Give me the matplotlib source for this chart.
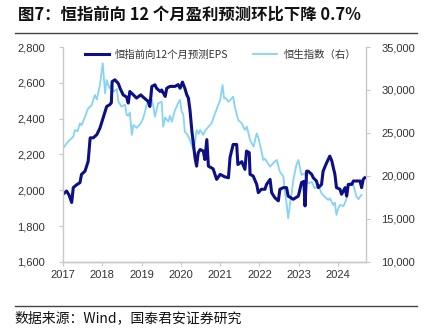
import numpy as np
import matplotlib
matplotlib.use("Agg")
import matplotlib.pyplot as plt
from matplotlib.ticker import FuncFormatter

plt.rcParams['font.family'] = ['Liberation Sans', 'Noto Sans CJK SC', 'DejaVu Sans']

# 恒指前向12个月预测EPS (left axis)
eps_t = [2017.00, 2017.09, 2017.15, 2017.22, 2017.26, 2017.34, 2017.43, 2017.47, 2017.56, 2017.64,
         2017.69, 2017.77, 2017.86, 2017.94, 2018.02, 2018.11, 2018.19, 2018.23, 2018.25, 2018.32,
         2018.41, 2018.45, 2018.53, 2018.62, 2018.66, 2018.70, 2018.79, 2018.87, 2018.98, 2019.04,
         2019.17, 2019.21, 2019.26, 2019.34, 2019.38, 2019.47, 2019.51, 2019.60, 2019.64, 2019.72,
         2019.85, 2019.93, 2019.98, 2020.04, 2020.10, 2020.15, 2020.19, 2020.23, 2020.28, 2020.32,
         2020.36, 2020.40, 2020.44, 2020.49, 2020.57, 2020.61, 2020.66, 2020.70, 2020.82, 2020.91,
         2021.00, 2021.12, 2021.21, 2021.25, 2021.33, 2021.42, 2021.45, 2021.55, 2021.63, 2021.67,
         2021.74, 2021.76, 2021.84, 2021.93, 2021.97, 2022.05, 2022.14, 2022.18, 2022.27, 2022.31,
         2022.39, 2022.48, 2022.52, 2022.61, 2022.69, 2022.73, 2022.86, 2022.99, 2023.07, 2023.13,
         2023.16, 2023.20, 2023.24, 2023.33, 2023.37, 2023.45, 2023.50, 2023.58, 2023.62, 2023.71,
         2023.79, 2023.84, 2023.88, 2023.92, 2023.96, 2024.05, 2024.09, 2024.18, 2024.22, 2024.26,
         2024.35, 2024.39, 2024.56, 2024.60, 2024.64, 2024.68]
eps_v = [1978, 1996, 1975, 1932, 2015, 2030, 2043, 2089, 2107, 2163,
         2293, 2293, 2311, 2348, 2404, 2468, 2478, 2490, 2607, 2617,
         2595, 2570, 2533, 2520, 2487, 2552, 2533, 2515, 2533, 2520,
         2496, 2468, 2580, 2589, 2570, 2552, 2560, 2524, 2570, 2580,
         2580, 2590, 2570, 2604, 2570, 2533, 2515, 2450, 2330, 2256,
         2181, 2135, 2209, 2228, 2219, 2172, 2283, 2135, 2120, 2061,
         2089, 2075, 2070, 2183, 2256, 2256, 2144, 2160, 2117, 2219,
         2210, 2089, 2080, 2033, 1987, 2006, 2006, 2033, 2061, 1987,
         1959, 1941, 2006, 2015, 2015, 1968, 1950, 1968, 2043, 2050,
         1913, 2107, 2107, 2089, 2070, 2052, 2015, 2033, 2107, 2154,
         2191, 2165, 2126, 2090, 2015, 2006, 1978, 2015, 1968, 2033,
         2033, 2052, 2052, 2015, 2061, 2070]

# 恒生指数 (right axis)
hsi_t = [2017.00, 2017.09, 2017.17, 2017.26, 2017.30, 2017.37, 2017.43, 2017.47, 2017.56, 2017.64,
         2017.73, 2017.81, 2017.86, 2017.90, 2017.94, 2018.01, 2018.07, 2018.11, 2018.18, 2018.23,
         2018.28, 2018.37, 2018.41, 2018.49, 2018.58, 2018.62, 2018.66, 2018.70, 2018.75, 2018.79,
         2018.87, 2018.96, 2019.04, 2019.13, 2019.17, 2019.26, 2019.30, 2019.34, 2019.42, 2019.51,
         2019.55, 2019.60, 2019.68, 2019.72, 2019.77, 2019.85, 2019.93, 2019.98, 2020.02, 2020.06,
         2020.10, 2020.15, 2020.19, 2020.23, 2020.32, 2020.36, 2020.40, 2020.45, 2020.49, 2020.57,
         2020.62, 2020.78, 2020.87, 2020.95, 2021.00, 2021.06, 2021.10, 2021.15, 2021.21, 2021.27,
         2021.33, 2021.38, 2021.46, 2021.55, 2021.63, 2021.68, 2021.76, 2021.85, 2021.93, 2021.98,
         2022.10, 2022.14, 2022.27, 2022.35, 2022.44, 2022.52, 2022.61, 2022.65, 2022.69, 2022.73,
         2022.78, 2022.82, 2022.86, 2022.94, 2022.99, 2023.07, 2023.15, 2023.24, 2023.33, 2023.41,
         2023.50, 2023.58, 2023.66, 2023.75, 2023.79, 2023.88, 2023.92, 2023.96, 2024.00, 2024.05,
         2024.14, 2024.22, 2024.26, 2024.31, 2024.39, 2024.47, 2024.52, 2024.56, 2024.60]
hsi_v = [23220, 23800, 24180, 24570, 25350, 25200, 26120, 25900, 26900, 27870,
         28250, 29420, 28900, 29800, 30580, 33100, 29620, 31160, 30200, 30600,
         29800, 30100, 28640, 28060, 28300, 27090, 27000, 27400, 24770, 25930,
         25600, 26000, 26710, 28250, 28840, 28900, 28060, 26900, 28450, 28640,
         25730, 26800, 26310, 27000, 26300, 27670, 28450, 28840, 27470, 27200,
         25150, 24900, 24570, 24200, 23020, 23990, 25350, 24900, 25350, 24770,
         25300, 26120, 27290, 28250, 28840, 30580, 29030, 29030, 28640, 28900,
         29220, 27870, 26510, 26120, 25350, 25730, 24180, 23410, 24960, 24300,
         21860, 22000, 21080, 21500, 21860, 20500, 19920, 17990, 16820, 15080,
         16820, 18000, 19530, 21280, 21860, 20120, 20300, 19150, 19300, 18570,
         18900, 17990, 17590, 17210, 17400, 16630, 16900, 15470, 16200, 16630,
         16500, 17400, 18950, 19200, 18950, 17590, 17300, 17590, 17790]

years = [2017, 2018, 2019, 2020, 2021, 2022, 2023, 2024]
title = '图7：恒指前向 12 个月盈利预测环比下降 0.7%'
source = '数据来源：Wind，国泰君安证券研究'

dark = '#0c0f86'
light = '#85d3f5'
grey = '#c8c8c8'

fig = plt.figure(figsize=(4.26, 3.31), dpi=100)
ax = fig.add_axes([0.148, 0.2085, 0.711, 0.6495])
ax2 = ax.twinx()
ax.set_zorder(ax2.get_zorder() + 1)
ax.patch.set_visible(False)

l2, = ax2.plot(hsi_t, hsi_v, color=light, lw=1.3, label='恒生指数（右）')
l1, = ax.plot(eps_t, eps_v, color=dark, lw=2.2, label='恒指前向12个月预测EPS')

ax.set_xlim(2017, 2024.71)
ax.set_ylim(1600, 2800)
ax2.set_ylim(10000, 35000)
ax.set_xticks(years)
ax.set_yticks(np.arange(1600, 2801, 200))
ax2.set_yticks(np.arange(10000, 35001, 5000))
fmt = FuncFormatter(lambda v, p: f'{v:,.0f}')
ax.yaxis.set_major_formatter(fmt)
ax2.yaxis.set_major_formatter(fmt)

for a in (ax, ax2):
    a.spines['top'].set_visible(False)
    for s in ('left', 'right', 'bottom'):
        a.spines[s].set_color(grey)
        a.spines[s].set_linewidth(1.0)
    a.tick_params(colors=grey, labelcolor='#333333', labelsize=8, length=3, width=0.8)
ax.spines['right'].set_visible(False)
ax2.spines['left'].set_visible(False)
ax.tick_params(axis='y', pad=10)
ax2.tick_params(axis='y', pad=8)
ax.tick_params(axis='x', pad=3)

ax.legend(handles=[l1, l2], loc='upper center', bbox_to_anchor=(0.52, 1.03), ncol=2,
          frameon=False, handlelength=2.3, handletextpad=0.6, columnspacing=2.4,
          labelcolor='#333333', prop={'family': ['Noto Sans CJK SC'], 'size': 7.5})

fig.text(0.042, 0.955, title, fontsize=11.8, fontweight='bold', family=['Noto Sans CJK SC'],
         va='center', ha='left', color='#111111')
fig.add_artist(plt.Line2D([0.035, 0.978], [0.9, 0.9], color='#444444', lw=1.0))
fig.add_artist(plt.Line2D([0.035, 0.978], [0.075, 0.075], color='#444444', lw=1.0))
fig.text(0.035, 0.038, source, fontsize=10, family=['Noto Sans CJK SC'],
         va='center', ha='left', color='#111111')

fig.savefig('out.png', dpi=100)
